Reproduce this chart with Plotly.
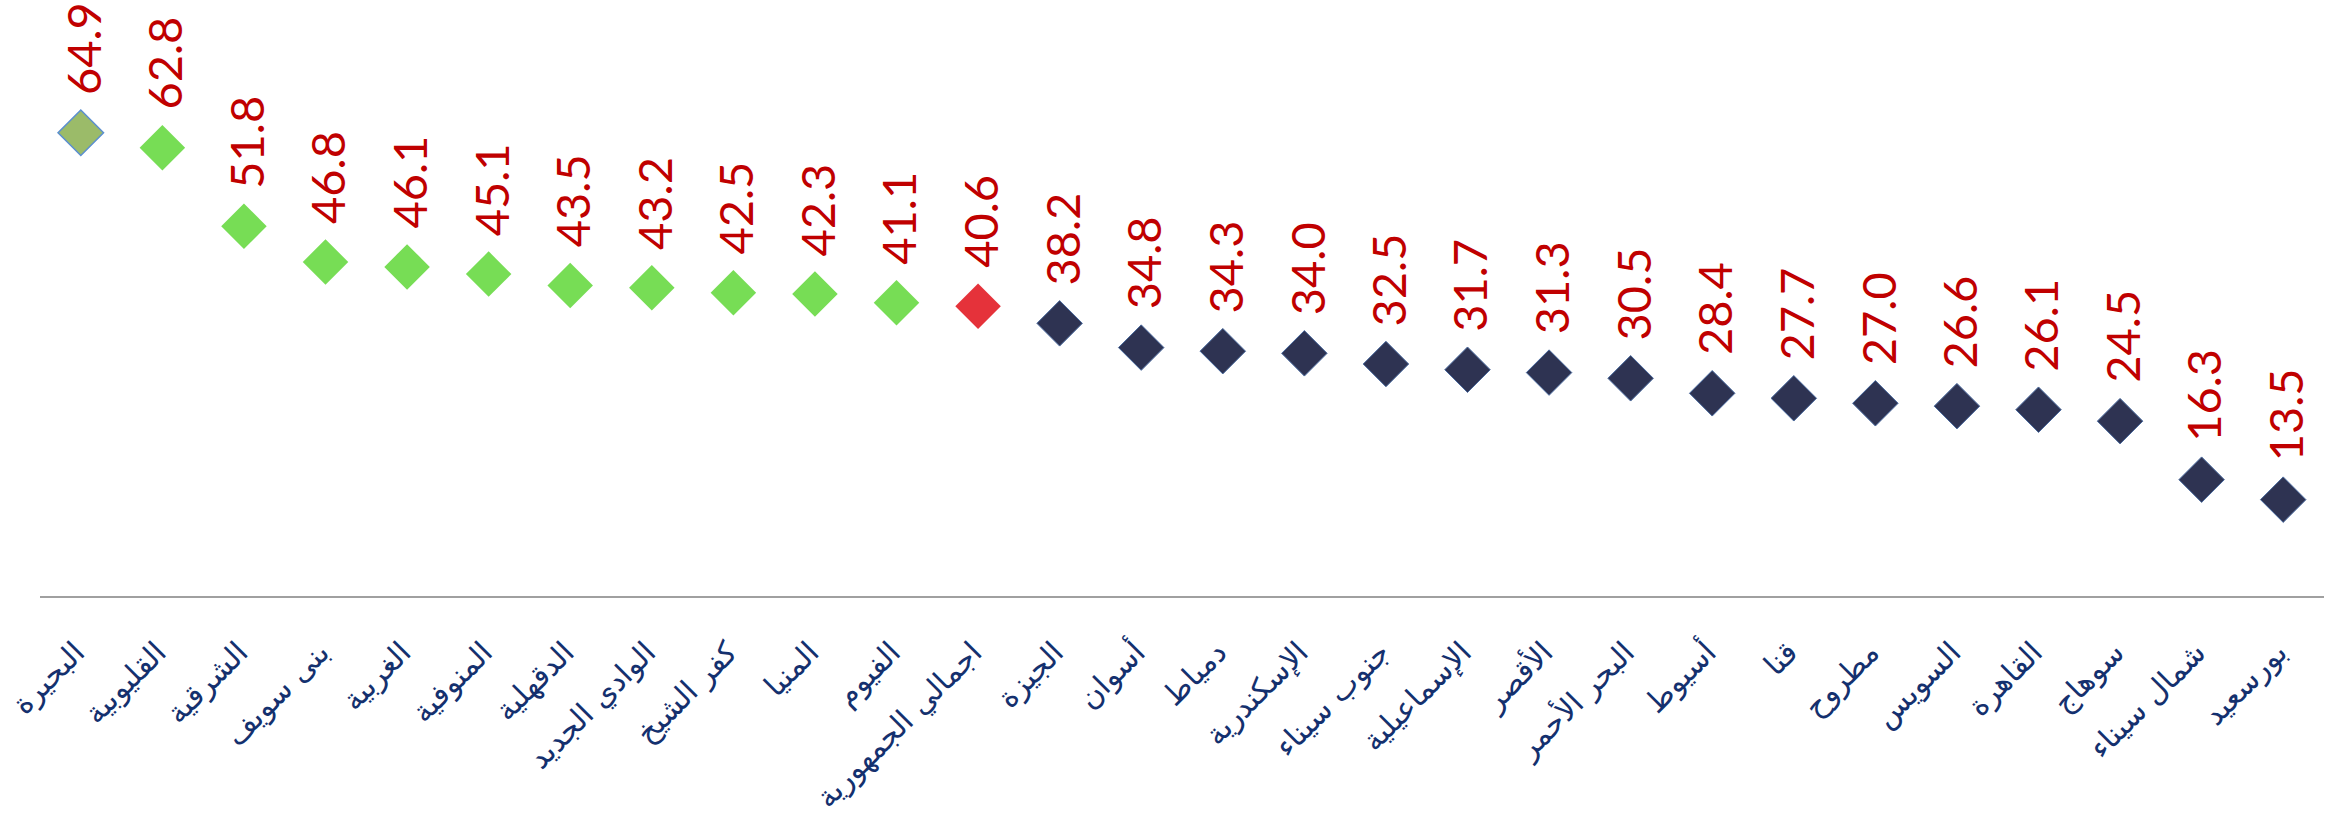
import plotly.graph_objects as go

# ---- data ----
categories = [
    "البحيرة", "القليوبية", "الشرقية", "بنى سويف", "الغربية", "المنوفية",
    "الدقهلية", "الوادي الجديد", "كفر الشيخ", "المنيا", "الفيوم",
    "اجمالي الجمهورية", "الجيزة", "أسوان", "دمياط", "الإسكندرية",
    "جنوب سيناء", "الإسماعيلية", "الأقصر", "البحر الأحمر", "أسيوط", "قنا",
    "مطروح", "السويس", "القاهرة", "سوهاج", "شمال سيناء", "بورسعيد",
]
values = [
    64.9, 62.8, 51.8, 46.8, 46.1, 45.1, 43.5, 43.2, 42.5, 42.3, 41.1,
    40.6, 38.2, 34.8, 34.3, 34.0, 32.5, 31.7, 31.3, 30.5, 28.4, 27.7,
    27.0, 26.6, 26.1, 24.5, 16.3, 13.5,
]
total_label = "اجمالي الجمهورية"

# ---- styles ----
TOP_FILL, TOP_LINE = "#9BBB69", "#5B8FD0"
ABOVE_FILL = "#77DD55"
TOTAL_FILL = "#E5323A"
BELOW_FILL, BELOW_LINE = "#2E3352", "#4A6A9E"
LABEL_RED = "#C00000"
CAT_BLUE = "#14306E"

total_value = values[categories.index(total_label)]
fills, lines, lwidths = [], [], []
for i, (c, v) in enumerate(zip(categories, values)):
    if c == total_label:
        fills.append(TOTAL_FILL); lines.append(TOTAL_FILL); lwidths.append(0)
    elif i == 0:
        fills.append(TOP_FILL); lines.append(TOP_LINE); lwidths.append(1.5)
    elif v > total_value:
        fills.append(ABOVE_FILL); lines.append(ABOVE_FILL); lwidths.append(0)
    else:
        fills.append(BELOW_FILL); lines.append(BELOW_LINE); lwidths.append(1)

fig = go.Figure()
fig.add_trace(go.Scatter(
    x=categories, y=values, mode="markers", cliponaxis=False,
    marker=dict(symbol="diamond", size=35, color=fills,
                line=dict(color=lines, width=lwidths)),
    hoverinfo="x+y", showlegend=False,
))

annotations = []
for c, v in zip(categories, values):
    annotations.append(dict(
        x=c, y=v, xref="x", yref="y", text=f"{v:.1f}", textangle=-90,
        showarrow=False, yanchor="bottom", xanchor="center", yshift=37, xshift=2,
        borderpad=0,
        font=dict(family="Lato", size=47, color=LABEL_RED),
    ))

fig.update_layout(
    width=2349, height=815, autosize=False,
    margin=dict(l=40, r=25, t=25, b=219, autoexpand=False),
    paper_bgcolor="white", plot_bgcolor="white",
    annotations=annotations,
    xaxis=dict(
        type="category", range=[-0.5, len(categories) - 0.5],
        automargin=False,
        showline=True, linecolor="#A0A0A0", linewidth=1.5,
        showgrid=False, zeroline=False, ticks="",
        tickangle=-45, ticklabelstandoff=25, ticklabelshift=-5,
        tickfont=dict(family="DejaVu Sans", size=30, color=CAT_BLUE),
    ),
    yaxis=dict(range=[0, 80], visible=False, automargin=False,
               showgrid=False, zeroline=False),
)

fig.write_html(
    "out.html",
    config={"displayModeBar": False},
    post_script="document.body.style.margin='0';document.body.style.overflow='hidden';",
)
